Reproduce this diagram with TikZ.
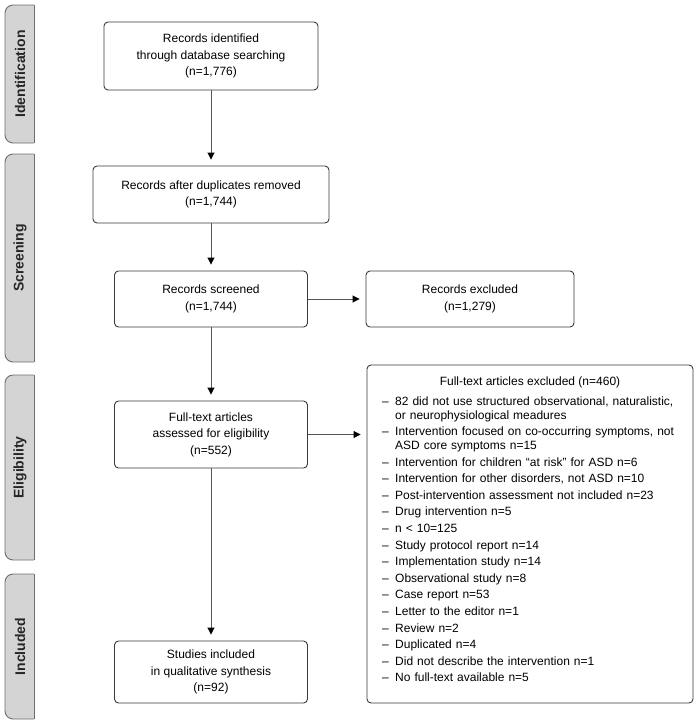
\documentclass[tikz,border=0pt]{standalone}
\usepackage{fontspec}
\setmainfont{Liberation Sans}
\usetikzlibrary{arrows.meta}
\definecolor{tabfill}{HTML}{D4D4D4}
\definecolor{tabline}{HTML}{6E6E6E}
\definecolor{boxline}{HTML}{3A3A3A}
\definecolor{arrline}{HTML}{555555}
\tikzset{
  flowbox/.style={draw=boxline, line width=0.9pt, rounded corners=4pt, align=center,
    font=\fontsize{12}{16.5}\selectfont, inner sep=0pt},
  arr/.style={draw=arrline, line width=0.9pt, -{Triangle[width=7pt,length=7pt,fill=black,color=black]}, shorten >=6pt},
  tabshape/.style={fill=tabfill, draw=tabline, line width=0.9pt},
  tablabel/.style={rotate=90, font=\fontsize{14}{16}\selectfont\bfseries, text=black!85},
  exclist/.style={anchor=north west, inner sep=0pt, text width=296pt,
    font=\fontsize{12}{13.8}\selectfont}
}
\newcommand{\excitem}[1]{\hangindent=13pt\hangafter=1\noindent\makebox[13pt][l]{–}#1\par}
\newcommand{\exbreak}{\hfil\break}
\begin{document}
\begin{tikzpicture}[x=1pt,y=-1pt]
\useasboundingbox (0,0) rectangle (698,724);
% phase tabs
\foreach \ya/\yb/\lab in {5/143/Identification, 154/362/Screening, 375/560/Eligibility, 574/719/Included}{
  \filldraw[tabshape, rounded corners=8pt] (34,\yb) -- (5,\yb) -- (5,\ya) -- (34,\ya);
  \draw[tabline, line width=0.9pt] (34,\ya) -- (34,\yb);
  \node[tablabel] at (20,{(\ya+\yb)/2}) {\lab};
}
% boxes
\node[flowbox, minimum width=214pt, minimum height=68pt] (b1) at (211,56) {Records identified\\through database searching\\(n=1,776)};
\node[flowbox, minimum width=236pt, minimum height=57pt] (b2) at (211,194.5) {Records after duplicates removed\\(n=1,744)};
\node[flowbox, minimum width=193pt, minimum height=56pt] (b3) at (211,299) {Records screened\\(n=1,744)};
\node[flowbox, minimum width=208pt, minimum height=56pt] (b4) at (470,299) {Records excluded\\(n=1,279)};
\node[flowbox, minimum width=193pt, minimum height=67pt] (b5) at (211,434.5) {Full-text articles\\assessed for eligibility\\(n=552)};
\node[flowbox, minimum width=193pt, minimum height=62pt] (b6) at (211,672) {Studies included\\in qualitative synthesis\\(n=92)};
\node[flowbox, minimum width=326pt, minimum height=338pt] (exc) at (530,534) {};
\node[anchor=base, inner sep=0pt, font=\fontsize{12}{13.8}\selectfont] (exct) at (530,385) {Full-text articles excluded (n=460)};
\node[exclist] (excl) at (382,396.3) {\raggedright\parskip=2.8pt\relax
\excitem{82 did not use structured observational, naturalistic,\exbreak or neurophysiological meadures}
\excitem{Intervention focused on co-occurring symptoms, not\exbreak ASD core symptoms n=15}
\excitem{Intervention for children “at risk” for ASD n=6}
\excitem{Intervention for other disorders, not ASD n=10}
\excitem{Post-intervention assessment not included n=23}
\excitem{Drug intervention n=5}
\excitem{n < 10=125}
\excitem{Study protocol report n=14}
\excitem{Implementation study n=14}
\excitem{Observational study n=8}
\excitem{Case report n=53}
\excitem{Letter to the editor n=1}
\excitem{Review n=2}
\excitem{Duplicated n=4}
\excitem{Did not describe the intervention n=1}
\excitem{No full-text available n=5}}%
;
% arrows
\draw[arr] (b1) -- (b2);
\draw[arr] (b2) -- (b3);
\draw[arr] (b3) -- (b4);
\draw[arr] (b3) -- (b5);
\draw[arr] (b5) -- (b5 -| exc.west);
\draw[arr] (b5) -- (b6);
\end{tikzpicture}
\end{document}
